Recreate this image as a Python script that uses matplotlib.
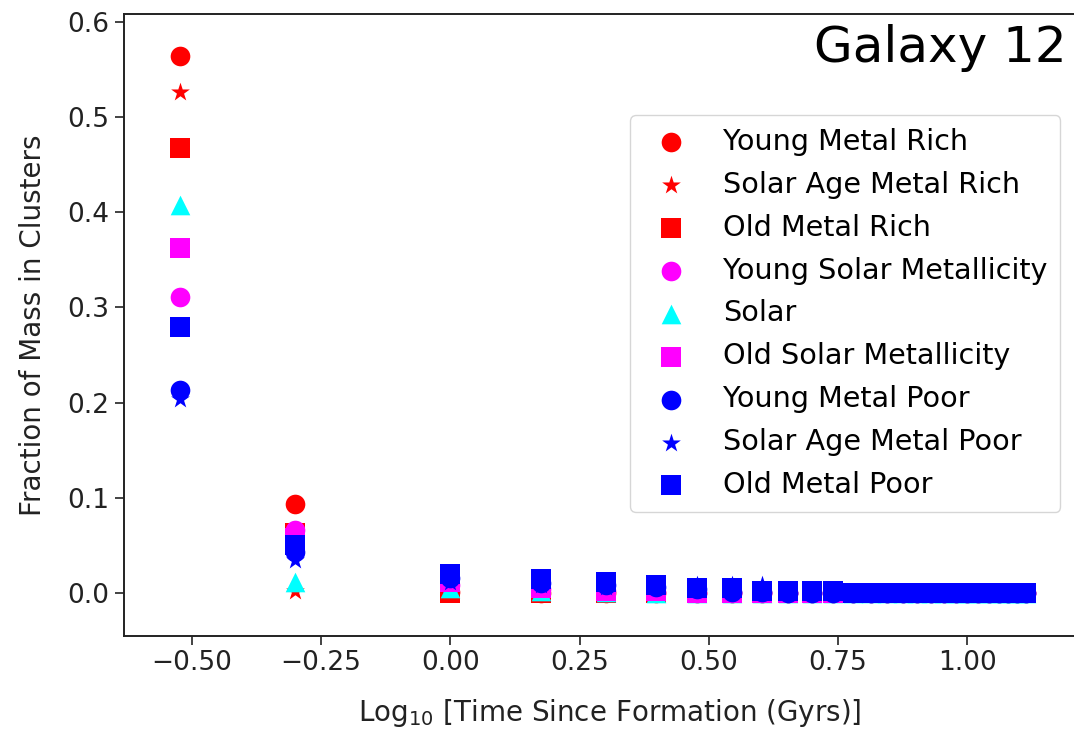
import numpy as np
import matplotlib
matplotlib.use('Agg')
import matplotlib.pyplot as plt

# Time since formation (Gyrs) for each snapshot
times = [0.3, 0.5, 1.0, 1.5, 2.0, 2.5, 3.0, 3.5, 4.0, 4.5, 5.0, 5.5, 6.0, 6.5,
         7.0, 7.5, 8.0, 8.5, 9.0, 9.5, 10.0, 10.5, 11.0, 11.5, 12.0, 12.5, 13.0]

z14 = [0.0] * 14  # late snapshots, all ~0

young_metal_rich = [0.564, 0.094, 0.001, 0.0, 0.0, 0.0, 0.0, 0.0, 0.0, 0.0, 0.0, 0.0, 0.0] + z14
solar_age_metal_rich = [0.526, 0.002, 0.0, 0.0, 0.0, 0.0, 0.0, 0.0, 0.0, 0.0, 0.0, 0.0, 0.0] + z14
old_metal_rich = [0.468, 0.063, 0.0, 0.0, 0.0, 0.0, 0.0, 0.0, 0.0, 0.0, 0.0, 0.0, 0.0] + z14
young_solar_met = [0.311, 0.066, 0.008, 0.004, 0.002, 0.001, 0.0, 0.0, 0.0, 0.0, 0.0, 0.0, 0.0] + z14
solar = [0.408, 0.0115, 0.005, 0.002, 0.001, 0.0005, 0.0, 0.0, 0.0, 0.0, 0.0, 0.0, 0.0] + z14
old_solar_met = [0.363, 0.058, 0.012, 0.005, 0.002, 0.002, 0.0, 0.0, 0.0, 0.0, 0.0, 0.0, 0.0] + z14
young_metal_poor = [0.213, 0.043, 0.016, 0.0105, 0.008, 0.006, 0.004, 0.001, 0.001, 0.0, 0.0, 0.0, 0.0] + z14
solar_age_metal_poor = [0.204, 0.035, 0.012, 0.008, 0.006, 0.007, 0.008, 0.008, 0.008, 0.002, 0.001, 0.001, 0.0] + z14
old_metal_poor = [0.279, 0.050, 0.020, 0.0147, 0.0115, 0.0084, 0.005, 0.005, 0.002, 0.002, 0.002, 0.002, 0.0] + z14

series = [
    (young_metal_rich, 'red', 'o', 'Young Metal Rich'),
    (solar_age_metal_rich, 'red', '*', 'Solar Age Metal Rich'),
    (old_metal_rich, 'red', 's', 'Old Metal Rich'),
    (young_solar_met, 'magenta', 'o', 'Young Solar Metallicity'),
    (solar, 'cyan', '^', 'Solar'),
    (old_solar_met, 'magenta', 's', 'Old Solar Metallicity'),
    (young_metal_poor, 'blue', 'o', 'Young Metal Poor'),
    (solar_age_metal_poor, 'blue', '*', 'Solar Age Metal Poor'),
    (old_metal_poor, 'blue', 's', 'Old Metal Poor'),
]

logt = np.log10(times)

fig = plt.figure(figsize=(10.74, 7.32), dpi=100)
ax = fig.add_axes([0.115, 0.1311, 0.906, 0.8498])

for vals, col, mk, lab in series:
    ax.scatter(logt, vals, c=col, marker=mk, s=200, label=lab, linewidths=0)

ax.set_xlim(-0.632, 1.25)
ax.set_ylim(-0.0452, 0.6084)
ax.set_xticks([-0.5, -0.25, 0.0, 0.25, 0.5, 0.75, 1.0])
ax.set_xticklabels(['\u22120.50', '\u22120.25', '0.00', '0.25', '0.50', '0.75', '1.00'])
ax.set_yticks([0.0, 0.1, 0.2, 0.3, 0.4, 0.5, 0.6])
ax.tick_params(labelsize=19, length=6.5, width=1.2, color='#222222', labelcolor='#222222')
for sp in ax.spines.values():
    sp.set_linewidth(1.4)
    sp.set_color('#222222')

ax.set_xlabel('Log$_{10}$ [Time Since Formation (Gyrs)]', fontsize=20, color='#222222', labelpad=15)
ax.set_ylabel('Fraction of Mass in Clusters', fontsize=20, color='#222222', labelpad=15)

fig.text(1067 / 1074, 1 - 62 / 732, 'Galaxy 12', fontsize=36, ha='right', va='baseline')

ax.legend(loc='upper left', bbox_to_anchor=(630 / 1074, 1 - 115 / 732),
          bbox_transform=fig.transFigure, borderaxespad=0, fontsize=20.6,
          scatterpoints=1, labelspacing=0.52, handletextpad=0.8, borderpad=0.45)

fig.savefig('out.png', dpi=100)
